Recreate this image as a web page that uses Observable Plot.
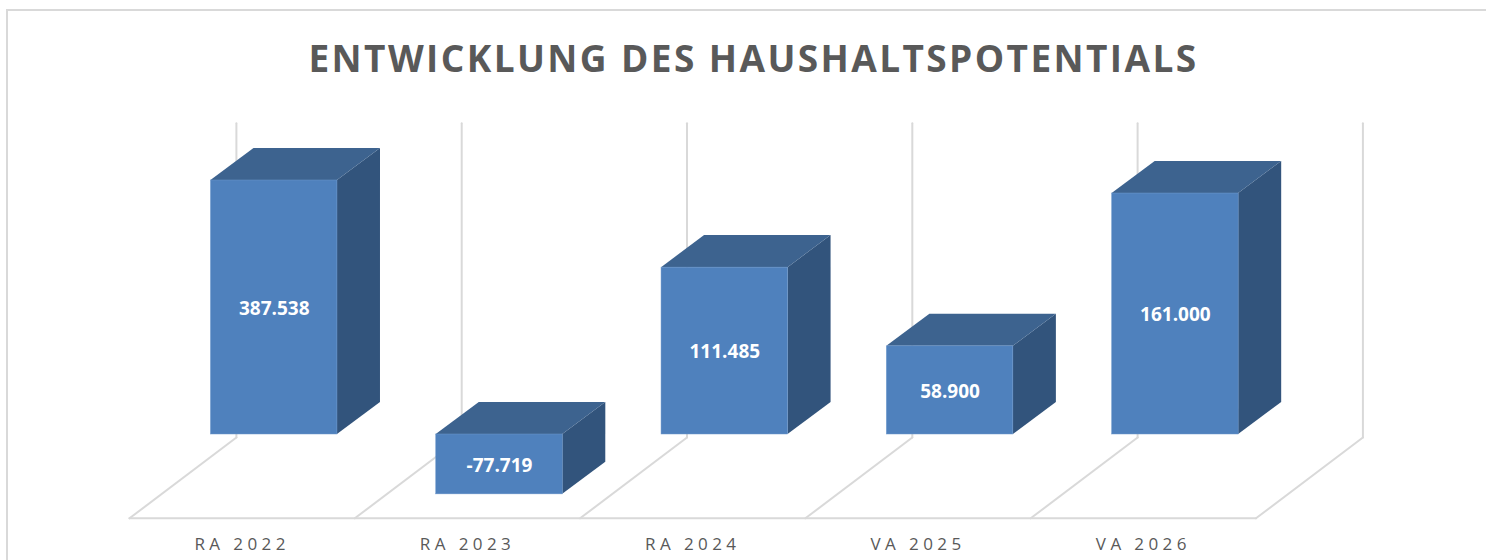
<!DOCTYPE html>
<html lang="de">
<head>
<meta charset="utf-8">
<script src="https://cdn.jsdelivr.net/npm/d3@7"></script>
<script src="https://cdn.jsdelivr.net/npm/@observablehq/plot@0.6"></script>
<style>
  html, body { margin: 0; padding: 0; background: #fff; overflow: hidden; }
  body { position: relative; width: 1486px; height: 560px; font-family: "Open Sans", sans-serif; }
  #frame { position: absolute; left: 6px; top: 9px; right: 0; bottom: 0; border-left: 2px solid #d9d9d9; border-top: 2px solid #d9d9d9; pointer-events: none; }
  #title { height: 100px; box-sizing: border-box; padding: 33px 0 0 21px; margin: 0; text-align: center; font-size: 37px; line-height: 50px; font-weight: 700; letter-spacing: 2.4px; color: #595959; white-space: nowrap; }
  #chart svg { display: block; }
  #chart g[aria-label="x-axis tick label"] text { letter-spacing: 4.4px; }
</style>
</head>
<body>
<div id="frame"></div>
<h1 id="title">ENTWICKLUNG DES HAUSHALTSPOTENTIALS</h1>
<div id="chart"></div>
<script>
const categories = ["RA 2022", "RA 2023", "RA 2024", "VA 2025", "VA 2026"];
const values = [387538, -77719, 111485, 58900, 161000];
// The value axis of the original is cut off at these limits; taller bars are clipped by it.
const axisMin = -40000;
const axisMax = 169700;
const wallTop = 208000;
const floorFront = -56000;
const floorBack = -2000;
const slots = [0, 1, 2, 3, 4, 5];

const barStart = 0.3615;
const barWidth = 0.5615;
const depthX = 0.191;
const depthY = 21400;
const wallShift = 0.4745;

const fmt = d3.formatLocale({decimal: ",", thousands: ".", grouping: [3], currency: ["", ""], minus: "-"}).format(",d");
const clip = (v) => Math.max(axisMin, Math.min(axisMax, v));

const bars = categories.map((name, i) => ({
  name,
  value: values[i],
  left: i + barStart,
  right: i + barStart + barWidth,
  top: clip(Math.max(0, values[i])),
  bottom: clip(Math.min(0, values[i]))
}));

const sideFaces = bars.flatMap((b) => [
  {name: b.name, x: b.right, y1: b.bottom, y2: b.top},
  {name: b.name, x: b.right + depthX, y1: b.bottom + depthY, y2: b.top + depthY}
]);
const topFaces = bars.flatMap((b) => [
  {name: b.name, x1: b.left, x2: b.right, y: b.top},
  {name: b.name, x1: b.left + depthX, x2: b.right + depthX, y: b.top + depthY}
]);
const floorLines = slots.flatMap((s) => [
  {slot: s, x: s, y: floorFront},
  {slot: s, x: s + wallShift, y: floorBack}
]);

const grid = {stroke: "#d9d9d9", strokeWidth: 2};

const plot = Plot.plot({
  width: 1486,
  height: 460,
  marginTop: 0,
  marginLeft: 0,
  marginRight: 0,
  marginBottom: 42,
  style: {fontFamily: '"Open Sans", sans-serif', background: "transparent", overflow: "visible"},
  x: {type: "linear", domain: [0, 5], range: [129, 1255.5]},
  y: {type: "linear", domain: [0, axisMax], range: [334, 334 - 254], axis: null},
  marks: [
    // back wall and floor
    Plot.line(slots.flatMap((s) => [
      {slot: s, x: s + wallShift, y: floorBack},
      {slot: s, x: s + wallShift, y: wallTop}
    ]), {x: "x", y: "y", z: "slot", ...grid}),
    Plot.line(floorLines, {x: "x", y: "y", z: "slot", ...grid}),
    Plot.line([{x: 0, y: floorFront}, {x: 5, y: floorFront}], {x: "x", y: "y", ...grid}),
    // 3D bars
    Plot.area(sideFaces, {x1: "x", x2: "x", y1: "y1", y2: "y2", z: "name", fill: "#32547c"}),
    Plot.area(topFaces, {x1: "x1", x2: "x2", y1: "y", y2: "y", z: "name", fill: "#3d638f"}),
    Plot.rect(bars, {x1: "left", x2: "right", y1: "bottom", y2: "top", fill: "#4f81bd", stroke: "#6d97cb", strokeWidth: 0.5}),
    Plot.text(bars, {
      x: (d) => (d.left + d.right) / 2,
      y: (d) => (d.top + d.bottom) / 2,
      text: (d) => fmt(d.value),
      fill: "white",
      fontWeight: 700,
      fontSize: 19,
      dy: 1
    }),
    Plot.axisX({
      ticks: categories.map((_, i) => i + 0.5),
      tickFormat: (t) => categories[t - 0.5],
      tickSize: 0,
      tickPadding: 19,
      fontSize: 17,
      fill: "#595959",
      label: null
    })
  ]
});
document.getElementById("chart").appendChild(plot);
</script>
</body>
</html>
